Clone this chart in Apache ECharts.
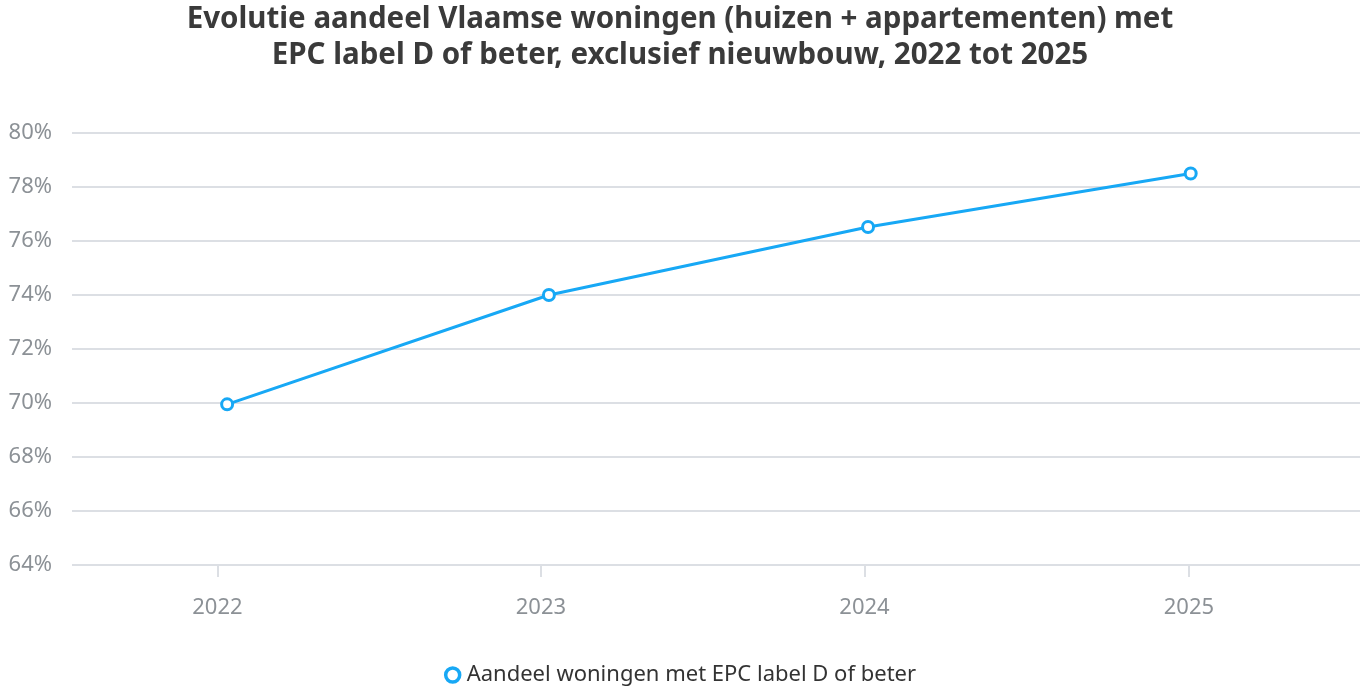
<!DOCTYPE html>
<html>
<head>
<meta charset="UTF-8">
<title>EPC label D of beter</title>
<script src="https://cdn.jsdelivr.net/npm/echarts@6/dist/echarts.min.js"></script>
<style>
  html, body { margin: 0; padding: 0; background: #fff; }
  #main { width: 1360px; height: 691px; }
</style>
</head>
<body>
<div id="main"></div>
<script>
// data
var dates = ['2022-01-12', '2023-01-10', '2024-01-05', '2025-01-03'];
var shares = [69.95, 74.0, 76.52, 78.5];
var yearTicks = ['2022-01-01', '2023-01-01', '2024-01-01', '2025-01-01'];
var seriesName = 'Aandeel woningen met EPC label D of beter';

var FONT = '"Noto Sans", sans-serif';
var BLUE = '#17a8f5';
function ts(d) { return Date.parse(d + 'T00:00:00Z'); }
var tickTimes = yearTicks.map(ts);

var chart = echarts.init(document.getElementById('main'));
chart.setOption({
  backgroundColor: '#fff',
  title: {
    text: 'Evolutie aandeel Vlaamse woningen (huizen + appartementen) met\nEPC label D of beter, exclusief nieuwbouw, 2022 tot 2025',
    left: 'center',
    top: -3,
    textStyle: { fontFamily: FONT, fontSize: 29.5, fontWeight: 'bold', color: '#3a3a3a', lineHeight: 36 }
  },
  legend: {
    bottom: 0,
    left: 'center',
    icon: 'circle',
    itemWidth: 14,
    itemHeight: 14,
    itemGap: 6,
    itemStyle: { color: '#fff', borderColor: BLUE, borderWidth: 3.5 },
    textStyle: { fontFamily: FONT, fontSize: 22, color: '#333', padding: [0, 0, 0, 2] }
  },
  grid: { left: 72, right: 0, top: 133, bottom: 126, containLabel: false },
  xAxis: {
    type: 'value',
    min: ts('2021-07-21'),
    max: ts('2025-07-13'),
    axisLine: { show: false },
    axisTick: { show: true, customValues: tickTimes, length: 12, lineStyle: { color: '#dcdfe4', width: 2 } },
    axisLabel: {
      customValues: tickTimes,
      margin: 32,
      fontFamily: FONT, fontSize: 22, color: '#8c9196',
      formatter: function (v) { return String(new Date(v).getUTCFullYear()); }
    },
    splitLine: { show: false }
  },
  yAxis: {
    type: 'value',
    min: 64,
    max: 80,
    interval: 2,
    axisLine: { show: false },
    axisTick: { show: false },
    axisLabel: { margin: 20, fontFamily: FONT, fontSize: 22, color: '#8c9196', formatter: '{value}%' },
    splitLine: { lineStyle: { color: '#dcdfe4', width: 2 } }
  },
  series: [{
    name: seriesName,
    type: 'line',
    data: dates.map(function (d, i) { return [ts(d), shares[i]]; }),
    symbol: 'circle',
    symbolSize: 11,
    lineStyle: { width: 3, color: BLUE },
    itemStyle: { borderWidth: 3, color: '#fff', borderColor: BLUE }
  }]
});
</script>
</body>
</html>
